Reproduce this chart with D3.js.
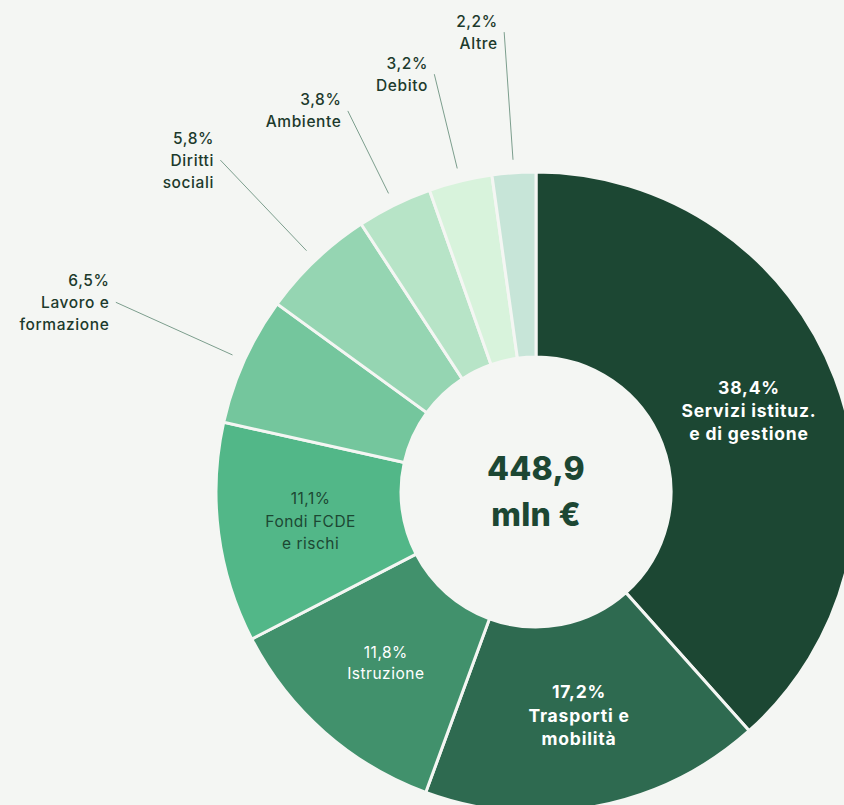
<!DOCTYPE html>
<html>
<head>
<meta charset="utf-8">
<script src="https://cdn.jsdelivr.net/npm/d3@7"></script>
<style>
  html, body { margin: 0; padding: 0; background: #f4f6f3; }
  svg { display: block; }
  text { font-family: "Inter", "Open Sans", sans-serif; }
</style>
</head>
<body>
<svg id="chart" width="844" height="805"></svg>
<script>
// Spending breakdown by mission (percent of total)
const categories = [
  "Servizi istituz.\ne di gestione",
  "Trasporti e\nmobilità",
  "Istruzione",
  "Fondi FCDE\ne rischi",
  "Lavoro e\nformazione",
  "Diritti\nsociali",
  "Ambiente",
  "Debito",
  "Altre"
];
const shares = [38.4, 17.2, 11.8, 11.1, 6.5, 5.8, 3.8, 3.2, 2.2];
const colors = ["#1c4733", "#2e6a50", "#41916c", "#52b788", "#74c69d", "#95d5b2", "#b7e4c7", "#d8f3dc", "#c7e5d8"];
const totalLabel = ["448,9", "mln €"];

const svg = d3.select("#chart");
const cx = 536, cy = 492;
const rOuter = 320, rInner = 135;

const data = categories.map((c, i) => ({ name: c, value: shares[i], color: colors[i], i }));

const pie = d3.pie().value(d => d.value).sort(null);
const arcs = pie(data);
const arc = d3.arc().innerRadius(rInner).outerRadius(rOuter);

const g = svg.append("g").attr("transform", `translate(${cx},${cy})`);

g.selectAll("path.slice")
  .data(arcs)
  .join("path")
  .attr("class", "slice")
  .attr("d", arc)
  .attr("fill", d => d.data.color)
  .attr("stroke", "#f4f6f3")
  .attr("stroke-width", 3);

const fmt = v => d3.format(".1f")(v).replace(".", ",") + "%";

// Labels drawn inside the large slices
const inside = {
  0: { fill: "#ffffff", weight: 700, size: 17.5, ls: 0.8, lh: 23 },
  1: { fill: "#ffffff", weight: 700, size: 17.5, ls: 0.8, lh: 23.5 },
  2: { fill: "#ffffff", weight: 400, size: 15.5, ls: 0.5, lh: 21 },
  3: { fill: "#1c4733", weight: 400, size: 15.5, ls: 0.5, lh: 22.5 }
};

arcs.forEach(a => {
  const st = inside[a.data.i];
  if (!st) return;
  const [x, y] = arc.centroid(a);
  const lines = [fmt(a.data.value)].concat(a.data.name.split("\n"));
  const t = g.append("text")
    .attr("text-anchor", "middle")
    .attr("fill", st.fill)
    .attr("font-weight", st.weight)
    .attr("font-size", st.size)
    .attr("letter-spacing", st.ls);
  lines.forEach((l, k) => {
    t.append("tspan")
      .attr("x", x + st.ls / 2)
      .attr("y", y + (k - (lines.length - 1) / 2) * st.lh)
      .attr("dy", "0.35em")
      .text(l);
  });
});

// Small slices get labels outside, joined by radial leader lines
const leaderStart = 333;
const leaderEnd = { 4: 461, 5: 458, 6: 425, 7: 430, 8: 461 };

arcs.forEach(a => {
  const rEnd = leaderEnd[a.data.i];
  if (!rEnd) return;
  const ang = (a.startAngle + a.endAngle) / 2;
  const px = r => r * Math.sin(ang);
  const py = r => -r * Math.cos(ang);
  g.append("line")
    .attr("x1", px(leaderStart)).attr("y1", py(leaderStart))
    .attr("x2", px(rEnd)).attr("y2", py(rEnd))
    .attr("stroke", "#7c9e8d")
    .attr("stroke-width", 1);
  const lines = [fmt(a.data.value)].concat(a.data.name.split("\n"));
  const lh = 22;
  const tx = px(rEnd) - 7, ty = py(rEnd);
  const t = g.append("text")
    .attr("text-anchor", "end")
    .attr("fill", "#1c3a2c")
    .attr("font-weight", 500)
    .attr("font-size", 15.5)
    .attr("letter-spacing", 0.6);
  lines.forEach((l, k) => {
    t.append("tspan")
      .attr("x", tx + 0.6)
      .attr("y", ty + (k - (lines.length - 1) / 2) * lh)
      .attr("dy", "0.35em")
      .text(l);
  });
});

// Total in the centre of the donut
const ct = g.append("text")
  .attr("text-anchor", "middle")
  .attr("fill", "#1c4733")
  .attr("font-weight", 800)
  .attr("font-size", 32)
  .attr("letter-spacing", 0.3);
totalLabel.forEach((l, k) => {
  ct.append("tspan")
    .attr("x", 0)
    .attr("y", (k - 0.5) * 46)
    .attr("dy", "0.35em")
    .text(l);
});
</script>
</body>
</html>
